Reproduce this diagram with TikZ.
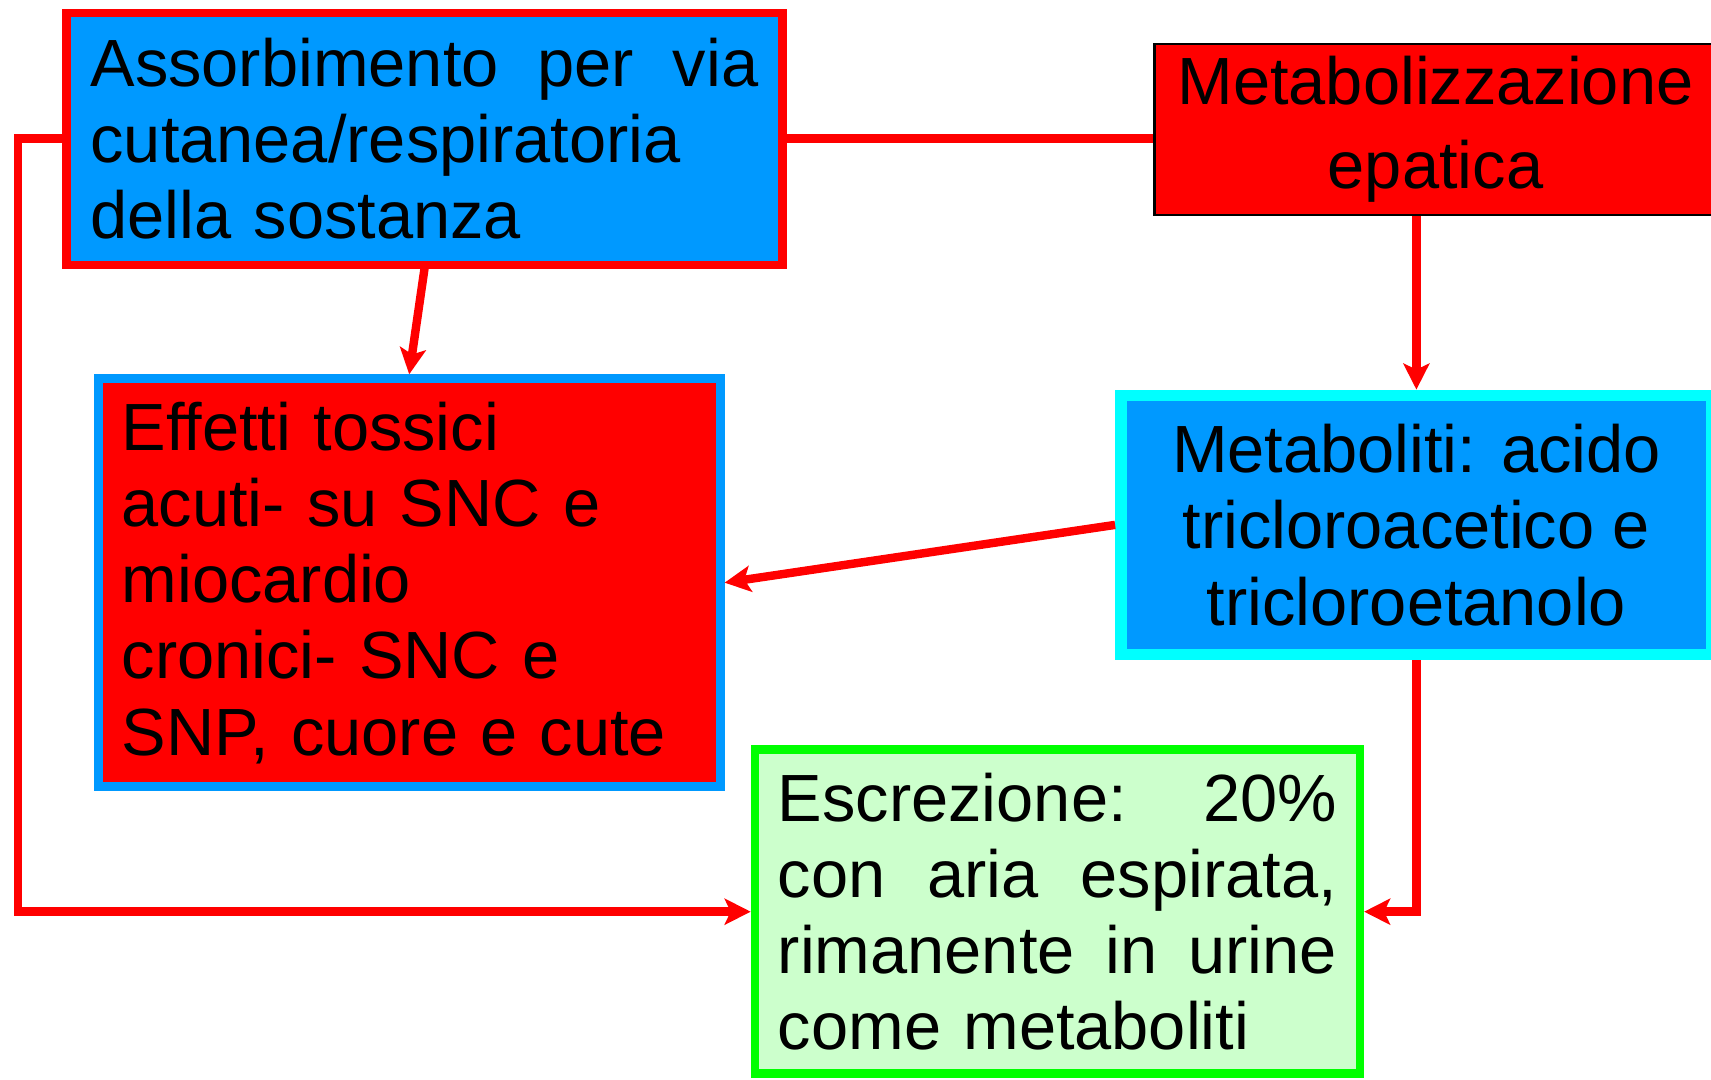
\documentclass[tikz,border=0pt]{standalone}
\usepackage{fontspec}
\setmainfont{Liberation Sans}
\usetikzlibrary{arrows.meta}
\definecolor{azul}{RGB}{0,153,255}
\definecolor{rojo}{RGB}{255,0,0}
\definecolor{cian}{RGB}{0,255,255}
\definecolor{verde}{RGB}{0,255,0}
\definecolor{verdeclaro}{RGB}{204,255,204}

\begin{document}
\begin{tikzpicture}[
    caja/.style={rectangle, inner sep=0pt, font=\fontsize{19}{21.7}\selectfont},
    linea/.style={draw=rojo, line width=2.4pt},
    flecha/.style={linea, -{Stealth[length=2.6mm, width=2.6mm, inset=0.6mm]}}
]
    \useasboundingbox (0,0) rectangle (17.11,-10.80);

    % Cajas
    \node[caja, fill=azul, draw=rojo, line width=2.3pt, minimum width=7.16cm, minimum height=2.52cm,
          text width=6.68cm, align=left] (abs) at (4.245,-1.386)
        {Assorbimento\hfill per\hfill via\\cutanea/respiratoria\\della sostanza};
    \node[caja, fill=rojo, draw=black, line width=0.6pt, minimum width=5.62cm, minimum height=1.713cm,
          align=center] (metab) at (14.355,-1.293)
        {Metabolizzazione\\[2pt]epatica};
    \node[caja, fill=rojo, draw=azul, line width=2.5pt, minimum width=6.22cm, minimum height=4.08cm,
          text width=5.75cm, align=left] (eff) at (4.092,-5.827)
        {Effetti tossici\\acuti- su SNC e\\miocardio\\cronici- SNC e\\SNP, cuore e cute};
    \node[caja, fill=azul, draw=cian, line width=3.3pt, minimum width=5.91cm, minimum height=2.59cm,
          align=center] (metb) at (14.164,-5.249)
        {Metaboliti: acido\\tricloroacetico e\\tricloroetanolo};
    \node[caja, fill=verdeclaro, draw=verde, line width=2.4pt, minimum width=6.05cm, minimum height=3.24cm,
          text width=5.59cm, align=left] (esc) at (10.574,-9.117)
        {Escrezione:\hfill 20\%\\con\hfill aria\hfill espirata,\\rimanente\hfill in\hfill urine\\come metaboliti};

    % Conectores
    \coordinate (sx) at (0.18,-1.386);
    \draw[linea] (abs.east) -- (abs.east -| metab.west);
    \draw[flecha] (abs.south) -- (eff.north);
    \draw[flecha] (metab.south -| metb.north) -- (metb.north);
    \draw[flecha] (metb.west) -- (eff.east);
    \draw[flecha] (metb.south) |- (esc.east);
    \draw[flecha] (abs.west) -- (sx) |- (esc.west);

\end{tikzpicture}
\end{document}
